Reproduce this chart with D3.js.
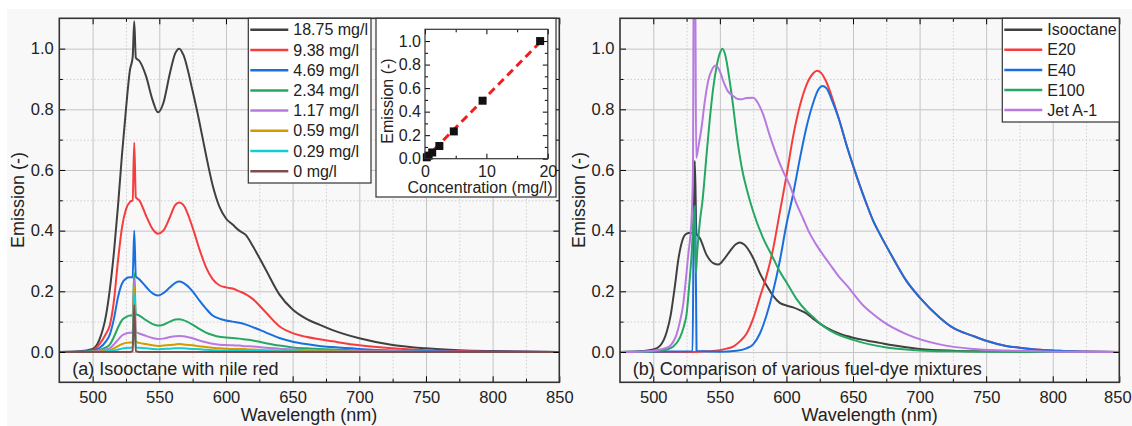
<!DOCTYPE html>
<html>
<head>
<meta charset="utf-8">
<script src="https://cdn.jsdelivr.net/npm/d3@7"></script>
<style>
body { margin: 0; background: #fff; }
text { font-family: "Liberation Sans", Arial, sans-serif; fill: #222; }
</style>
</head>
<body>
<script>
// ---- data, panel (a): nile red in isooctane ----
wlA = [475, 490, 500, 505, 510, 513, 516, 519, 522, 525, 528, 530, 531.2, 532.4, 535, 540, 545, 549, 553, 558,
       562, 565, 568, 575, 580, 585, 590, 595, 600, 605, 610, 615, 620, 630, 640, 650, 660, 670, 680, 700,
       725, 750, 775, 800, 850]
em1875 = [0, 0.002, 0.01, 0.04, 0.12, 0.21, 0.33, 0.48, 0.65, 0.80, 0.93, 0.97, 1.09, 0.97, 0.96, 0.91, 0.83, 0.79, 0.82, 0.92,
          0.985, 1.0, 0.98, 0.86, 0.76, 0.65, 0.55, 0.48, 0.44, 0.42, 0.40, 0.385, 0.35, 0.27, 0.19, 0.14, 0.11, 0.09, 0.072, 0.045,
          0.023, 0.012, 0.006, 0.003, 0]
em938 = [0, 0.001, 0.006, 0.025, 0.06, 0.09, 0.17, 0.30, 0.41, 0.47, 0.495, 0.50, 0.69, 0.51, 0.50, 0.45, 0.405, 0.39, 0.40, 0.445,
         0.485, 0.493, 0.485, 0.41, 0.34, 0.28, 0.24, 0.22, 0.213, 0.209, 0.20, 0.19, 0.175, 0.13, 0.085, 0.062, 0.05, 0.042, 0.035, 0.022,
         0.012, 0.006, 0.003, 0.001, 0]
em469 = [0, 0.001, 0.005, 0.013, 0.035, 0.059, 0.11, 0.18, 0.225, 0.242, 0.246, 0.246, 0.40, 0.25, 0.24, 0.215, 0.193, 0.186, 0.194, 0.213,
         0.228, 0.232, 0.228, 0.20, 0.17, 0.143, 0.12, 0.11, 0.104, 0.10, 0.096, 0.09, 0.082, 0.064, 0.046, 0.034, 0.026, 0.02, 0.016, 0.01,
         0.005, 0.003, 0.001, 0.0005, 0]
em234 = [0, 0, 0.002, 0.006, 0.015, 0.025, 0.05, 0.08, 0.105, 0.115, 0.12, 0.12, 0.26, 0.125, 0.12, 0.105, 0.092, 0.087, 0.09, 0.10,
         0.107, 0.108, 0.105, 0.09, 0.076, 0.064, 0.056, 0.05, 0.048, 0.046, 0.044, 0.041, 0.038, 0.029, 0.021, 0.015, 0.012, 0.01, 0.008, 0.005,
         0.003, 0.001, 0, 0, 0]
em117 = [0, 0, 0.001, 0.003, 0.008, 0.013, 0.025, 0.04, 0.054, 0.061, 0.063, 0.063, 0.24, 0.066, 0.061, 0.053, 0.046, 0.043, 0.044, 0.049,
         0.052, 0.053, 0.052, 0.045, 0.038, 0.032, 0.027, 0.024, 0.023, 0.022, 0.021, 0.019, 0.018, 0.014, 0.011, 0.008, 0.006, 0.005, 0.004, 0.003,
         0.002, 0.001, 0, 0, 0]
em059 = [0, 0, 0.0005, 0.001, 0.004, 0.007, 0.012, 0.019, 0.026, 0.03, 0.031, 0.031, 0.215, 0.033, 0.03, 0.026, 0.022, 0.02, 0.021, 0.023,
         0.025, 0.026, 0.025, 0.022, 0.019, 0.016, 0.014, 0.012, 0.011, 0.01, 0.01, 0.009, 0.008, 0.006, 0.005, 0.004, 0.003, 0.002, 0.002, 0.001,
         0, 0, 0, 0, 0]
em029 = [0, 0, 0, 0, 0.002, 0.003, 0.005, 0.008, 0.011, 0.013, 0.014, 0.014, 0.19, 0.015, 0.014, 0.012, 0.01, 0.009, 0.01, 0.011,
         0.012, 0.012, 0.012, 0.01, 0.009, 0.007, 0.006, 0.005, 0.005, 0.004, 0.004, 0.004, 0.003, 0.003, 0.002, 0.002, 0.001, 0.001, 0.001, 0,
         0, 0, 0, 0, 0]
em000 = [0, 0, 0, 0, 0, 0, 0, 0, 0, 0, 0, 0.003, 0.155, 0.003, 0, 0, 0, 0, 0, 0,
         0, 0, 0, 0, 0, 0, 0, 0, 0, 0, 0, 0, 0, 0, 0, 0, 0, 0, 0, 0,
         0, 0, 0, 0, 0]
namesA = ["18.75 mg/l", "9.38 mg/l", "4.69 mg/l", "2.34 mg/l", "1.17 mg/l", "0.59 mg/l", "0.29 mg/l", "0 mg/l"]
seriesA = [em1875, em938, em469, em234, em117, em059, em029, em000]
colorsA = ["#404040", "#f53d3d", "#1a6fdf", "#26a862", "#b87ae0", "#d69a00", "#13cdd0", "#7d4e4e"]

// inset: peak emission vs concentration
concVals = [0.29, 0.59, 1.17, 2.34, 4.69, 9.38, 18.75]
peakVals = [0.012, 0.026, 0.053, 0.108, 0.232, 0.493, 1.0]
fitConc = [0, 18.75]
fitPeak = [0, 0.99]

// ---- data, panel (b): fuel-dye mixtures, [wavelength, emission] ----
iso = [[475,0],[490,0.002],[500,0.008],[505,0.02],[510,0.065],[513,0.12],[516,0.21],[519,0.31],[522,0.37],[525,0.39],
       [528,0.393],[530,0.39],[531.2,0.63],[532.4,0.39],[535,0.375],[540,0.32],[545,0.293],[549,0.288],[553,0.305],[558,0.335],
       [562,0.355],[565,0.361],[568,0.355],[575,0.31],[580,0.26],[585,0.22],[590,0.185],[595,0.162],[600,0.153],[605,0.147],
       [610,0.138],[615,0.127],[620,0.11],[630,0.08],[640,0.06],[650,0.047],[660,0.038],[670,0.03],[680,0.022],[700,0.01],
       [725,0.004],[750,0.002],[775,0.001],[800,0],[850,0]]
e20 = [[475,0],[530,0],[540,0.002],[550,0.006],[555,0.011],[560,0.018],[565,0.035],[570,0.06],[575,0.11],[580,0.18],
       [585,0.25],[590,0.34],[595,0.46],[600,0.58],[605,0.71],[610,0.81],[615,0.88],[620,0.918],[623,0.927],[626,0.92],
       [630,0.89],[635,0.83],[640,0.76],[645,0.684],[650,0.615],[655,0.55],[660,0.49],[665,0.434],[670,0.39],[680,0.31],
       [690,0.235],[700,0.18],[715,0.114],[725,0.08],[740,0.053],[750,0.037],[765,0.02],[775,0.014],[790,0.007],[800,0.005],
       [815,0.002],[850,0]]
e40 = [[475,0],[529.5,0.002],[530.5,0.48],[531.5,0.48],[532.5,0.003],[550,0.001],[562.5,0.004],[570,0.012],[575,0.025],[580,0.06],
       [585,0.12],[590,0.2],[595,0.3],[600,0.42],[605,0.52],[610,0.635],[615,0.74],[620,0.82],[624,0.865],[627,0.877],
       [630,0.87],[635,0.82],[640,0.76],[645,0.684],[650,0.615],[655,0.55],[660,0.49],[665,0.434],[670,0.39],[680,0.31],
       [690,0.235],[700,0.18],[715,0.114],[725,0.08],[740,0.053],[750,0.037],[765,0.02],[775,0.014],[790,0.007],[800,0.005],
       [815,0.002],[850,0]]
e100 = [[475,0],[490,0],[500,0.002],[505,0.004],[510,0.008],[515,0.018],[520,0.047],[523,0.085],[525,0.125],[527,0.22],
        [528.75,0.32],[530,0.42],[531,0.48],[532,0.26],[533,0.33],[535,0.43],[537,0.5],[540,0.65],[542.5,0.77],[545,0.87],
        [547.5,0.94],[550,0.985],[552,1.0],[554,0.98],[557.5,0.89],[560,0.81],[562.5,0.72],[565,0.645],[567.5,0.585],[570,0.54],
        [575,0.463],[582.5,0.375],[590,0.31],[595,0.265],[600,0.23],[607.5,0.175],[615,0.135],[620,0.115],[625,0.095],[632.5,0.071],
        [640,0.055],[650,0.04],[662.5,0.025],[675,0.015],[690,0.008],[700,0.005],[725,0.002],[750,0.001],[800,0],[850,0]]
jet = [[475,0],[490,0.001],[500,0.004],[505,0.008],[510,0.014],[512.5,0.02],[517.5,0.058],[520,0.1],[522.5,0.158],[524.5,0.24],
       [526.25,0.32],[528.75,0.44],[529.8,0.6],[530.4,1.3],[531.4,1.3],[532.2,0.64],[534,0.68],[536.25,0.74],[538.5,0.82],[541.25,0.894],
       [544,0.93],[547,0.944],[550,0.925],[552.5,0.894],[556,0.86],[560,0.844],[563,0.835],[566.25,0.833],[570,0.837],[575,0.838],
       [578,0.825],[582.5,0.783],[587,0.72],[592.5,0.65],[597,0.6],[602.5,0.55],[607,0.495],[612.5,0.44],[617,0.395],[622.5,0.353],
       [632.5,0.29],[640,0.245],[645,0.221],[657.5,0.154],[665,0.125],[672.5,0.1],[690,0.059],[715,0.025],[740,0.01],[765,0.005],
       [800,0.001],[850,0]]
namesB = ["Isooctane", "E20", "E40", "E100", "Jet A-1"]
seriesB = [iso, e20, e40, e100, jet]
colorsB = ["#404040", "#f53d3d", "#1a6fdf", "#26a862", "#b87ae0"]

// ticks
xMajor = [500, 550, 600, 650, 700, 750, 800, 850]
xMinor = [525, 575, 625, 675, 725, 775, 825]
yMajor = [0, 0.2, 0.4, 0.6, 0.8, 1.0]
yMinor = [0.1, 0.3, 0.5, 0.7, 0.9]
insetXMajor = [0, 10, 20]
insetXMinor = [5, 15]
insetYMinor = [0.1, 0.3, 0.5, 0.7, 0.9]

svg = d3.select("body").append("svg")
    .attr("width", 1132)
    .attr("height", 426)

svg.append("rect")
    .attr("x", 7).attr("y", 9)
    .attr("width", 1125).attr("height", 417)
    .attr("fill", "#f8f8f8")

function makePanel(id, left, top, w, h, xdom, ydom) {
    var g = svg.append("g").attr("transform", "translate(" + left + "," + top + ")")
    svg.append("clipPath").attr("id", id)
        .append("rect").attr("width", w).attr("height", h)
    return {
        g: g, w: w, h: h, clip: "url(#" + id + ")",
        x: d3.scaleLinear().domain(xdom).range([0, w]),
        y: d3.scaleLinear().domain(ydom).range([h, 0])
    }
}

function cleanAxis(sel) {
    sel.select(".domain").remove()
}

function drawGrid(p, xMaj, xMin, yMaj, yMin) {
    var gx = p.g.append("g").attr("transform", "translate(0," + p.h + ")")
    gx.append("g").call(d3.axisBottom(p.x).tickValues(xMin).tickSize(-p.h).tickFormat("")).call(cleanAxis)
        .selectAll("line").attr("stroke", "#cfcfcf").attr("stroke-dasharray", "1.5,2")
    gx.append("g").call(d3.axisBottom(p.x).tickValues(xMaj).tickSize(-p.h).tickFormat("")).call(cleanAxis)
        .selectAll("line").attr("stroke", "#c4c4c4")
    var gy = p.g.append("g")
    gy.append("g").call(d3.axisLeft(p.y).tickValues(yMin).tickSize(-p.w).tickFormat("")).call(cleanAxis)
        .selectAll("line").attr("stroke", "#cfcfcf").attr("stroke-dasharray", "1.5,2")
    gy.append("g").call(d3.axisLeft(p.y).tickValues(yMaj).tickSize(-p.w).tickFormat("")).call(cleanAxis)
        .selectAll("line").attr("stroke", "#c4c4c4")
}

function drawFrame(p, xMaj, xMin, yMaj, yMin, fmt, opt) {
    var big = opt.big, small = opt.small
    var b = p.g.append("g").attr("transform", "translate(0," + p.h + ")")
    b.call(d3.axisBottom(p.x).tickValues(xMaj).tickSize(-big).tickPadding(opt.padX).tickFormat(opt.xfmt)).call(cleanAxis)
    b.append("g").call(d3.axisBottom(p.x).tickValues(xMin).tickSize(-small).tickFormat("")).call(cleanAxis)
    var t = p.g.append("g")
    t.call(d3.axisTop(p.x).tickValues(xMaj).tickSize(-big).tickFormat("")).call(cleanAxis)
    t.append("g").call(d3.axisTop(p.x).tickValues(xMin).tickSize(-small).tickFormat("")).call(cleanAxis)
    var l = p.g.append("g")
    l.call(d3.axisLeft(p.y).tickValues(yMaj).tickSize(-big).tickPadding(opt.padY).tickFormat(fmt)).call(cleanAxis)
    l.append("g").call(d3.axisLeft(p.y).tickValues(yMin).tickSize(-small).tickFormat("")).call(cleanAxis)
    var r = p.g.append("g").attr("transform", "translate(" + p.w + ",0)")
    r.call(d3.axisRight(p.y).tickValues(yMaj).tickSize(-big).tickFormat("")).call(cleanAxis)
    r.append("g").call(d3.axisRight(p.y).tickValues(yMin).tickSize(-small).tickFormat("")).call(cleanAxis)
    p.g.selectAll(".tick text").attr("font-size", opt.font).attr("font-family", null).attr("fill", "#222")
    p.g.append("rect")
        .attr("width", p.w).attr("height", p.h)
        .attr("fill", "none").attr("stroke", "#333").attr("stroke-width", opt.frame)
    return b
}

function drawLegend(x0, y0, w, h, names, colors, step) {
    var lg = svg.append("g")
    lg.append("rect").attr("x", x0).attr("y", y0).attr("width", w).attr("height", h)
        .attr("fill", "#fff").attr("stroke", "#333").attr("stroke-width", 1.2)
    names.forEach(function(n, i) {
        var yy = y0 + 11.4 + i * step
        lg.append("line").attr("x1", x0 + 2).attr("x2", x0 + 40).attr("y1", yy).attr("y2", yy)
            .attr("stroke", colors[i]).attr("stroke-width", 2.5)
        lg.append("text").attr("x", x0 + 45).attr("y", yy).attr("dy", "0.35em")
            .attr("font-size", 16).text(n)
    })
}

var fmt1 = d3.format(".1f")
var mainOpt = {big: 6, small: 3.5, padX: 8.5, padY: 5.5, font: 16.5, frame: 1.6, xfmt: d3.format("d")}

// ---- panel (a) ----
pa = makePanel("clipA", 59.3, 18.3, 500, 364, [475, 850], [-0.1, 1.1])
drawGrid(pa, xMajor.slice(0, -1), xMinor, yMajor, yMinor)

lineA = d3.line()
    .x(function(d) { return pa.x(d[0]) })
    .y(function(d) { return pa.y(d[1]) })
    .curve(d3.curveMonotoneX)

pa.g.append("g").attr("clip-path", pa.clip)
    .selectAll("path")
    .data(seriesA)
    .enter()
    .append("path")
    .attr("d", function(s) { return lineA(wlA.map(function(w, i) { return [w, s[i]] })) })
    .attr("fill", "none")
    .attr("stroke", function(s, i) { return colorsA[i] })
    .attr("stroke-width", 2)
    .attr("stroke-linejoin", "round")

drawFrame(pa, xMajor, xMinor, yMajor, yMinor, fmt1, mainOpt)

pa.g.append("text").attr("x", 13).attr("y", 357).attr("font-size", 18).attr("fill", "#262626")
    .text("(a) Isooctane with nile red")

svg.append("text").attr("transform", "translate(23.5,200) rotate(-90)")
    .attr("text-anchor", "middle").attr("font-size", 18).text("Emission (-)")
svg.append("text").attr("x", 309).attr("y", 421)
    .attr("text-anchor", "middle").attr("font-size", 18).text("Wavelength (nm)")

drawLegend(248.3, 18.3, 122.7, 164.7, namesA, colorsA, 20.23)

// ---- inset ----
svg.append("rect").attr("x", 376).attr("y", 18.3).attr("width", 180).attr("height", 178.7)
    .attr("fill", "#fff").attr("stroke", "#333").attr("stroke-width", 1.2)
pi = makePanel("clipI", 425, 29.3, 122.8, 129.4, [0, 20], [0, 1.1])

fitLine = d3.line()
    .x(function(d) { return pi.x(d[0]) })
    .y(function(d) { return pi.y(d[1]) })
pi.g.append("path")
    .attr("d", fitLine(fitConc.map(function(c, i) { return [c, fitPeak[i]] })))
    .attr("stroke", "#f01e1e").attr("stroke-width", 3).attr("stroke-dasharray", "8,5").attr("fill", "none")

pi.g.selectAll("rect.pt")
    .data(concVals)
    .enter()
    .append("rect")
    .attr("class", "pt")
    .attr("x", function(d) { return pi.x(d) - 4 })
    .attr("y", function(d, i) { return pi.y(peakVals[i]) - 4 })
    .attr("width", 8).attr("height", 8)
    .attr("fill", "#111")

drawFrame(pi, insetXMajor, insetXMinor, yMajor, insetYMinor, fmt1,
    {big: 5, small: 3, padX: 6.6, padY: 4, font: 16, frame: 1.2, xfmt: d3.format("d")})

svg.append("text").attr("transform", "translate(393.3,101) rotate(-90)")
    .attr("text-anchor", "middle").attr("font-size", 16).text("Emission (-)")
svg.append("text").attr("x", 480).attr("y", 192.5)
    .attr("text-anchor", "middle").attr("font-size", 16).text("Concentration (mg/l)")

// ---- panel (b) ----
pb = makePanel("clipB", 620, 18.3, 499.3, 364, [475, 850], [-0.1, 1.1])
drawGrid(pb, xMajor.slice(0, -1), xMinor, yMajor, yMinor)

lineB = d3.line()
    .x(function(d) { return pb.x(d[0]) })
    .y(function(d) { return pb.y(d[1]) })
    .curve(d3.curveMonotoneX)

pb.g.append("g").attr("clip-path", pb.clip)
    .selectAll("path")
    .data(seriesB)
    .enter()
    .append("path")
    .attr("d", function(s) { return lineB(s) })
    .attr("fill", "none")
    .attr("stroke", function(s, i) { return colorsB[i] })
    .attr("stroke-width", 2)
    .attr("stroke-linejoin", "round")

bAxis = drawFrame(pb, xMajor, xMinor, yMajor, yMinor, fmt1, mainOpt)
// last label sits at the page edge
bAxis.selectAll(".tick text").filter(function(d) { return d === 850 }).attr("dx", -2)

pb.g.append("text").attr("x", 12.7).attr("y", 357).attr("font-size", 18).attr("fill", "#262626")
    .text("(b) Comparison of various fuel-dye mixtures")

svg.append("text").attr("transform", "translate(585,200) rotate(-90)")
    .attr("text-anchor", "middle").attr("font-size", 18).text("Emission (-)")
svg.append("text").attr("x", 869.6).attr("y", 421)
    .attr("text-anchor", "middle").attr("font-size", 18).text("Wavelength (nm)")

drawLegend(1002.3, 18.3, 117, 103.7, namesB, colorsB, 20.1)
</script>
</body>
</html>
